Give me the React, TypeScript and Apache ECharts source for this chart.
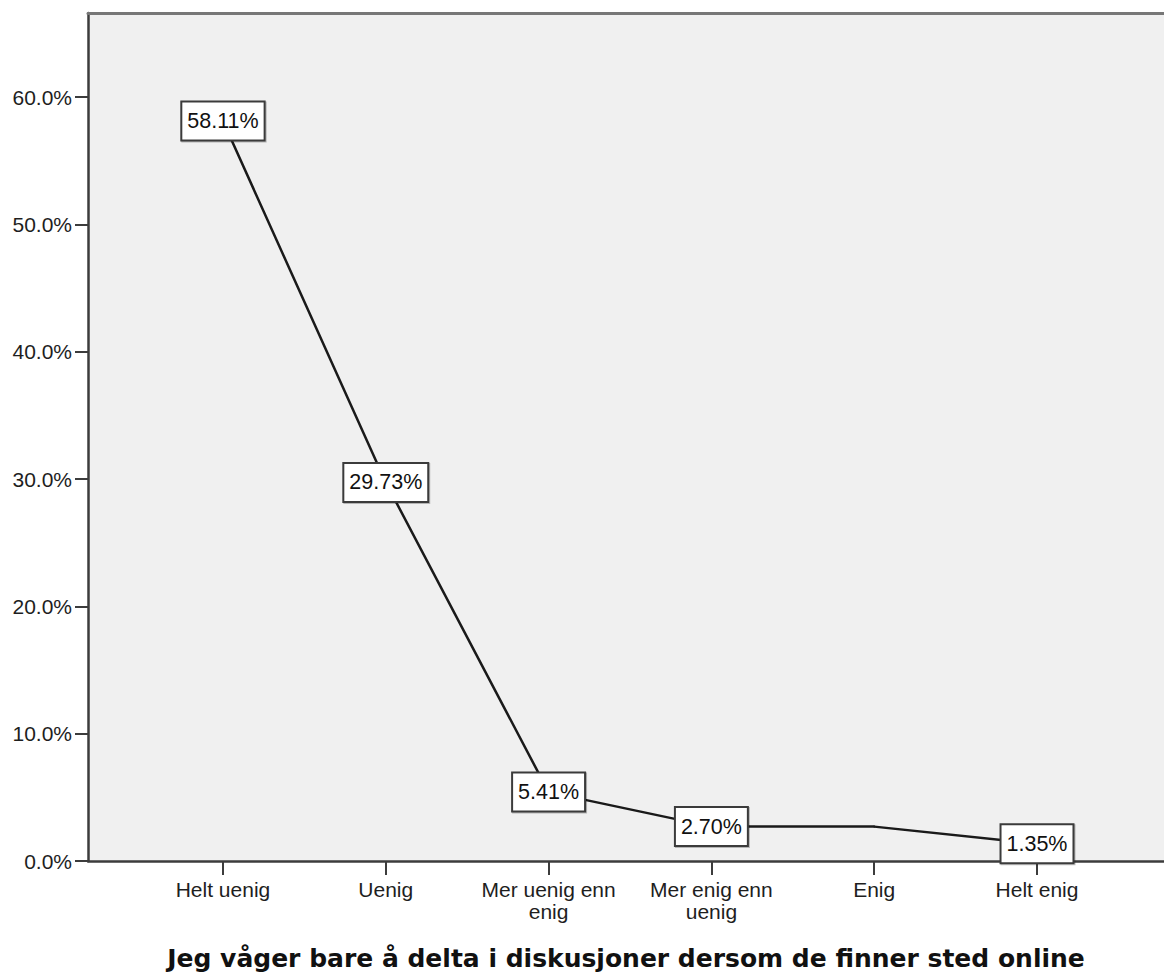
import React, { useEffect, useRef } from "react";
import * as echarts from "echarts";

const categories: string[] = [
  "Helt uenig",
  "Uenig",
  "Mer uenig enn\nenig",
  "Mer enig enn\nuenig",
  "Enig",
  "Helt enig",
];
const percentValues: number[] = [58.11, 29.73, 5.41, 2.7, 2.7, 1.35];
const showValueLabel: boolean[] = [true, true, true, true, false, true];
const yTickValues: number[] = [0, 10, 20, 30, 40, 50, 60];
const xAxisTitle = "Jeg våger bare å delta i diskusjoner dersom de finner sted online";

export default function App() {
  const ref = useRef<HTMLDivElement>(null);

  useEffect(() => {
    if (!ref.current) return;
    const chart = echarts.init(ref.current, undefined, { renderer: "svg" });
    const catIdx = categories.map((_, i) => i);
    const seriesData = percentValues.map((v, i) => ({
      value: [i, v],
      label: { show: showValueLabel[i] },
    }));
    const axisFont = "'Liberation Sans', Arial, sans-serif";

    chart.setOption({
      animation: false,
      backgroundColor: "#ffffff",
      grid: {
        left: 88,
        right: 0,
        top: 13,
        bottom: 113.5,
        show: true,
        backgroundColor: "#f0f0f0",
        borderWidth: 0,
      },
      xAxis: [
        {
          type: "value",
          min: -0.829,
          max: 5.78,
          position: "bottom",
          splitLine: { show: false },
          axisLine: { show: true, onZero: false, lineStyle: { color: "#3c3c3c", width: 2.5 } },
          axisTick: {
            show: true,
            customValues: catIdx,
            length: 14,
            lineStyle: { color: "#3c3c3c", width: 2 },
          },
          axisLabel: {
            show: true,
            customValues: catIdx,
            formatter: (v: number) => categories[Math.round(v)] ?? "",
            fontFamily: axisFont,
            fontSize: 21,
            lineHeight: 22,
            color: "#1e1e1e",
            margin: 17,
            align: "center",
          },
          name: xAxisTitle,
          nameLocation: "middle",
          nameGap: 85,
          nameTextStyle: {
            fontFamily: "'DejaVu Sans', Verdana, sans-serif",
            fontWeight: "bold",
            fontSize: 25,
            color: "#111111",
          },
        },
        {
          type: "value",
          min: -0.829,
          max: 5.78,
          position: "top",
          splitLine: { show: false },
          axisLine: { show: true, onZero: false, lineStyle: { color: "#777777", width: 3 } },
          axisTick: { show: false },
          axisLabel: { show: false },
        },
      ],
      yAxis: {
        type: "value",
        min: 0,
        max: 66.6,
        position: "left",
        splitLine: { show: false },
        axisLine: { show: true, onZero: false, lineStyle: { color: "#3c3c3c", width: 2.5 } },
        axisTick: {
          show: true,
          customValues: yTickValues,
          length: 13,
          lineStyle: { color: "#3c3c3c", width: 2 },
        },
        axisLabel: {
          show: true,
          customValues: yTickValues,
          formatter: (v: number) => `${v.toFixed(1)}%`,
          fontFamily: axisFont,
          fontSize: 21,
          color: "#1e1e1e",
          margin: 16,
        },
      },
      series: [
        {
          type: "line",
          xAxisIndex: 0,
          data: seriesData,
          symbol: "circle",
          symbolSize: 2,
          showSymbol: true,
          itemStyle: { color: "#1a1a1a" },
          lineStyle: { color: "#1a1a1a", width: 2.5 },
          label: {
            show: true,
            position: "inside",
            formatter: (p: any) => `${p.value[1].toFixed(2)}%`,
            fontFamily: axisFont,
            fontSize: 21.5,
            lineHeight: 25,
            color: "#111111",
            backgroundColor: "#ffffff",
            borderColor: "#3a3a3a",
            borderWidth: 2,
            padding: [6, 5, 6, 5],
            shadowColor: "rgba(0,0,0,0.25)",
            shadowOffsetX: 1,
            shadowOffsetY: 1,
            shadowBlur: 1,
          },
          emphasis: { disabled: true },
        },
      ],
    });

    return () => chart.dispose();
  }, []);

  return (
    <div
      ref={ref}
      style={{ position: "fixed", left: 0, top: 0, width: 1164, height: 976 }}
    />
  );
}
